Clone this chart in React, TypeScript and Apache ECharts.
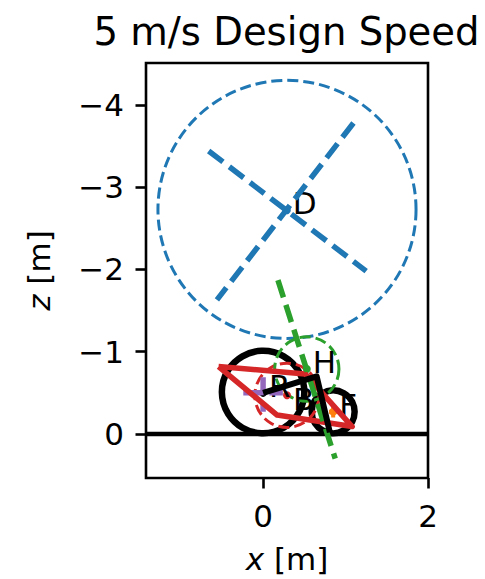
import React, { useEffect, useRef } from "react";
import * as echarts from "echarts";

const xTicks = [0, 2];
const zTicks = [-4, -3, -2, -1, 0];
const ground = [[-1.42, 0], [2, 0]];
const rotorA = [[1.096, -3.78], [-0.56, -1.63]];
const rotorB = [[-0.66, -3.44], [1.25, -1.98]];
const steerAxis = [[0.18, -1.87], [0.875, 0.3]];
const frame = [[0, -0.5], [0.65, -0.7], [0.81, -0.02]];
const rearCrossH = [[-0.24, -0.5], [0.24, -0.5]];
const rearCrossV = [[0, -0.69], [0, -0.27]];
const frontCrossH = [[0.8, -0.27], [0.9, -0.27]];
const frontCrossV = [[0.85, -0.34], [0.85, -0.2]];
const redBody = [[-0.54, -0.82], [0.51, -0.73], [1.08, -0.09], [0.17, -0.23], [-0.54, -0.82]];
const rearWheel = [[0, -0.51, 0.5]];
const frontWheel = [[0.85, -0.27, 0.26]];
const rotorCircle = [[0.29, -2.73, 1.565]];
const forkCircle = [[0.53, -0.79, 0.39]];
const bodyCircle = [[0.29, -0.47, 0.39]];
const labelNames = ["D", "H", "R", "B", "F"];
const labelPoints = [[0.288, -2.72], [0.53, -0.79], [0, -0.5], [0.29, -0.47], [0.85, -0.27]];
const labelColors = ["#1f77b4", "#2ca02c", "#000000", "#d62728", "#ff7f0e"];

const FONT = "DejaVu Sans";
const TICK = 31;

function circle(data: number[][], stroke: string, lineWidth: number, lineDash: number[] | null) {
  return {
    type: "custom",
    data,
    encode: { x: 0, y: 1 },
    clip: true,
    renderItem: (_p: any, api: any) => {
      const c = api.coord([api.value(0), api.value(1)]);
      const r = Math.abs(api.size([api.value(2), 0])[0]);
      return {
        type: "circle",
        shape: { cx: c[0], cy: c[1], r },
        style: { fill: "none", stroke, lineWidth, lineDash },
      };
    },
  };
}

function line(data: number[][], color: string, width: number, dash?: number[]) {
  return {
    type: "line",
    data,
    showSymbol: false,
    symbol: "none",
    lineStyle: { color, width, type: dash || "solid", cap: "butt", join: "round" },
  };
}

export default function App() {
  const ref = useRef<HTMLDivElement>(null);
  useEffect(() => {
    const chart = echarts.init(ref.current!, null, { renderer: "svg" });
    chart.setOption({
      animation: false,
      backgroundColor: "#ffffff",
      title: {
        text: "5 m/s Design Speed",
        left: 281.5,
        top: 7,
        textAlign: "center",
        textStyle: { fontFamily: FONT, fontSize: 38.6, fontWeight: "normal", color: "#000" },
      },
      grid: {
        show: true, left: 146, right: 57, top: 63, bottom: 101,
        outerBoundsMode: "none",
        borderColor: "#000", borderWidth: 2.6, backgroundColor: "transparent",
      },
      xAxis: {
        type: "value",
        min: -1.42,
        max: 2,
        splitLine: { show: false },
        axisLine: { show: false, onZero: false },
        axisTick: { show: true, length: 10.5, customValues: xTicks, lineStyle: { color: "#000", width: 2.6 } },
        axisLabel: { customValues: xTicks, margin: 22, color: "#000", fontFamily: FONT, fontSize: TICK },
        name: "{i|x} [m]",
        nameLocation: "middle",
        nameGap: 65,
        nameTextStyle: {
          fontFamily: FONT, fontSize: TICK, color: "#000",
          rich: { i: { fontFamily: FONT, fontSize: TICK, fontStyle: "italic", color: "#000" } },
        },
      },
      yAxis: {
        type: "value",
        inverse: true,
        min: -4.51,
        max: 0.535,
        splitLine: { show: false },
        axisLine: { show: false, onZero: false },
        axisTick: { show: true, length: 10.5, customValues: zTicks, lineStyle: { color: "#000", width: 2.6 } },
        axisLabel: {
          customValues: zTicks,
          margin: 22,
          color: "#000",
          fontFamily: FONT,
          fontSize: TICK,
          formatter: (v: number) => String(v).replace("-", "\u2212"),
        },
        name: "{i|z} [m]",
        nameLocation: "middle",
        nameGap: 92,
        nameRotate: 90,
        nameTextStyle: {
          fontFamily: FONT, fontSize: TICK, color: "#000",
          rich: { i: { fontFamily: FONT, fontSize: TICK, fontStyle: "italic", color: "#000" } },
        },
      },
      series: [
        line(ground, "#000", 4.5),
        circle(rearWheel, "#000", 6.5, null),
        circle(frontWheel, "#000", 6.5, null),
        circle(rotorCircle, "#1f77b4", 3, [11, 5]),
        line(rotorA, "#1f77b4", 5.5, [18, 8]),
        line(rotorB, "#1f77b4", 5.5, [18, 8]),
        line(rearCrossH, "#9467bd", 5.5, [18, 8]),
        line(rearCrossV, "#9467bd", 5.5, [18, 8]),
        line(frontCrossH, "#ff7f0e", 4),
        line(frontCrossV, "#ff7f0e", 4, [5, 3]),
        circle(bodyCircle, "#d62728", 3, [11, 5]),
        line(redBody, "#d62728", 5.5),
        circle(forkCircle, "#2ca02c", 3, [11, 5]),
        line(steerAxis, "#2ca02c", 5.5, [18, 8]),
        line(frame, "#000", 6),
        {
          type: "scatter",
          symbolSize: 8,
          itemStyle: { opacity: 1 },
          data: labelPoints.map((p, i) => ({
            value: p,
            name: labelNames[i],
            itemStyle: { color: labelColors[i], opacity: 1 },
            label: { offset: labelNames[i] === "B" ? [0, 4] : [0, -7] },
          })),
          label: {
            show: true,
            position: "right",
            distance: 2,
            opacity: 1,
            formatter: (p: any) => p.name,
            color: "#000",
            fontFamily: FONT,
            fontSize: TICK,
          },
        },
      ],
    });
    return () => chart.dispose();
  }, []);
  return <div ref={ref} style={{ position: "absolute", left: 0, top: 0, width: 485, height: 579 }} />;
}
